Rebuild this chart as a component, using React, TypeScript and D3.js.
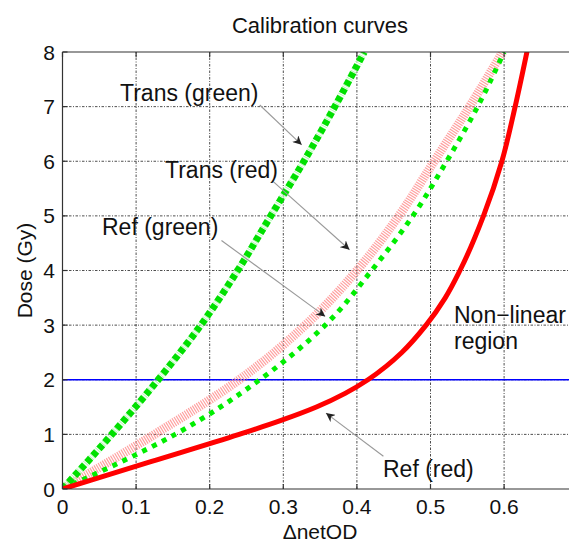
import * as d3 from 'd3';

// dose levels (Gy) shared by three of the curves
const doseLevels = [0, 1, 2, 3, 4, 5, 6, 7, 8];
const transGreenOD = [0, 0.067, 0.13, 0.188, 0.238, 0.283, 0.328, 0.37, 0.41];
const transRedOD = [0, 0.125, 0.24, 0.33, 0.4, 0.457, 0.505, 0.553, 0.598];
const refGreenOD = [0, 0.153, 0.268, 0.357, 0.42, 0.476, 0.522, 0.564, 0.6];

// ref (red) bends hard, so it has finer steps
const refRedDose = [0, 0.5, 1, 1.25, 1.5, 1.75, 2, 2.25, 2.5, 3, 3.5, 4, 5, 6, 7, 8];
const refRedOD = [0, 0.12, 0.24, 0.296, 0.345, 0.384, 0.415, 0.44, 0.461, 0.494, 0.52, 0.54, 0.572, 0.597, 0.615, 0.631];

const xTicks = [0, 0.1, 0.2, 0.3, 0.4, 0.5, 0.6, 0.7];
const xLabels = ['0', '0.1', '0.2', '0.3', '0.4', '0.5', '0.6'];
const yTicks = [0, 1, 2, 3, 4, 5, 6, 7, 8];
const thresholdDose = 2;

const W = 569;
const H = 542;
const font = "'Liberation Sans', Arial, Helvetica, sans-serif";

export default function App() {
  const x = d3.scaleLinear().domain([0, 0.7]).range([62.5, 577.7]);
  const y = d3.scaleLinear().domain([0, 8]).range([489, 52]);

  const toPts = (doses: number[], ods: number[]) => doses.map((d, i) => ({ dose: d, od: ods[i] }));
  const line = d3.line<{ dose: number; od: number }>()
    .x(d => x(d.od))
    .y(d => y(d.dose))
    .curve(d3.curveMonotoneY);

  const transGreen = line(toPts(doseLevels, transGreenOD)) || '';
  const transRed = line(toPts(doseLevels, transRedOD)) || '';
  const refGreen = line(toPts(doseLevels, refGreenOD)) || '';
  const refRed = line(toPts(refRedDose, refRedOD)) || '';

  const [x0, x1] = x.range();
  const [y0, y1] = y.range();

  // annotations: label, text position, arrow start, arrow tip (data coords)
  const notes = [
    { text: 'Trans (green)', tx: 120, ty: 101, from: [0.268, 7.03], to: [0.325, 6.3] },
    { text: 'Trans (red)', tx: 165, ty: 178, from: [0.286, 5.63], to: [0.39, 4.38] },
    { text: 'Ref (green)', tx: 102, ty: 235, from: [0.216, 4.55], to: [0.357, 3.16] },
    { text: 'Ref (red)', tx: 383, ty: 477, from: [0.436, 0.6], to: [0.358, 1.39] },
  ];

  return (
    <div>
      <style>{`body{margin:0}`}</style>
      <svg width={W} height={H} style={{ display: 'block', background: '#fff' }} fontFamily={font}>
        <defs>
          <marker id="arr" viewBox="0 0 10 10" refX="10" refY="5" markerWidth="9" markerHeight="9"
            markerUnits="userSpaceOnUse" orient="auto">
            <path d="M0,0 L10,5 L0,10 L3,5 z" fill="#222" />
          </marker>
          <clipPath id="plot">
            <rect x={x0} y={y1} width={x1 - x0} height={y0 - y1} />
          </clipPath>
        </defs>

        {/* title */}
        <text x={320} y={33} textAnchor="middle" fontSize={22} fill="#111">Calibration curves</text>

        {/* grid */}
        <g stroke="#222" strokeWidth={0.8} strokeDasharray="2.5,1.5,1,1.5">
          {xTicks.filter(t => t > 0).map(t => (
            <line key={'gx' + t} x1={x(t)} x2={x(t)} y1={y0} y2={y1} />
          ))}
          {yTicks.filter(t => t > 0 && t < 8).map(t => (
            <line key={'gy' + t} x1={x0} x2={x1} y1={y(t)} y2={y(t)} />
          ))}
        </g>

        {/* threshold line */}
        <line x1={x0} x2={x1} y1={y(thresholdDose)} y2={y(thresholdDose)} stroke="#0000ff" strokeWidth={1.4} />

        <g clipPath="url(#plot)" fill="none">
          {/* Trans (red) - hatched pink */}
          <path d={transRed} stroke="#ff8f8f" strokeWidth={9} strokeDasharray="1.2,1.2" opacity={0.85} />
          {/* Ref (green) - dotted */}
          <path d={refGreen} stroke="#00ee00" strokeWidth={5} strokeDasharray="5,6" />
          {/* Trans (green) - heavy dashed */}
          <path d={transGreen} stroke="#b8f8b8" strokeWidth={7} strokeDasharray="1,1" />
          <path d={transGreen} stroke="#00e000" strokeWidth={7} strokeDasharray="5.5,3.5" />
          {/* Ref (red) - solid */}
          <path d={refRed} stroke="#ff0000" strokeWidth={5} strokeLinecap="round" />
        </g>

        {/* frame */}
        <g stroke="#333" strokeWidth={1.2}>
          <line x1={x0} x2={x0} y1={y0} y2={y1} />
          <line x1={x0} x2={x1} y1={y0} y2={y0} />
          <line x1={x0} x2={x1} y1={y1} y2={y1} />
          {xTicks.map(t => (
            <g key={'tx' + t}>
              <line x1={x(t)} x2={x(t)} y1={y0} y2={y0 - 5} />
              <line x1={x(t)} x2={x(t)} y1={y1} y2={y1 + 5} />
            </g>
          ))}
          {yTicks.map(t => (
            <line key={'ty' + t} x1={x0} x2={x0 + 5} y1={y(t)} y2={y(t)} />
          ))}
        </g>

        {/* tick labels */}
        <g fontSize={21} fill="#111">
          {xLabels.map((l, i) => (
            <text key={'lx' + l} x={x(xTicks[i])} y={514} textAnchor="middle">{l}</text>
          ))}
          {yTicks.map(t => (
            <text key={'ly' + t} x={55} y={y(t) + 7.5} textAnchor="end">{t}</text>
          ))}
        </g>

        {/* axis labels */}
        <text x={320} y={539} textAnchor="middle" fontSize={21} fill="#111">ΔnetOD</text>
        <text transform={`translate(31.5,${(y0 + y1) / 2}) rotate(-90)`} textAnchor="middle" fontSize={21} fill="#111">Dose (Gy)</text>

        {/* annotations */}
        {notes.map(n => (
          <g key={n.text}>
            <line x1={x(n.from[0])} y1={y(n.from[1])} x2={x(n.to[0])} y2={y(n.to[1])}
              stroke="#999" strokeWidth={1.1} markerEnd="url(#arr)" />
            <text x={n.tx} y={n.ty} fontSize={23} fill="#111">{n.text}</text>
          </g>
        ))}
        <text x={454} y={323} fontSize={23} fill="#111">Non−linear</text>
        <text x={454} y={349} fontSize={23} fill="#111">region</text>
      </svg>
    </div>
  );
}
